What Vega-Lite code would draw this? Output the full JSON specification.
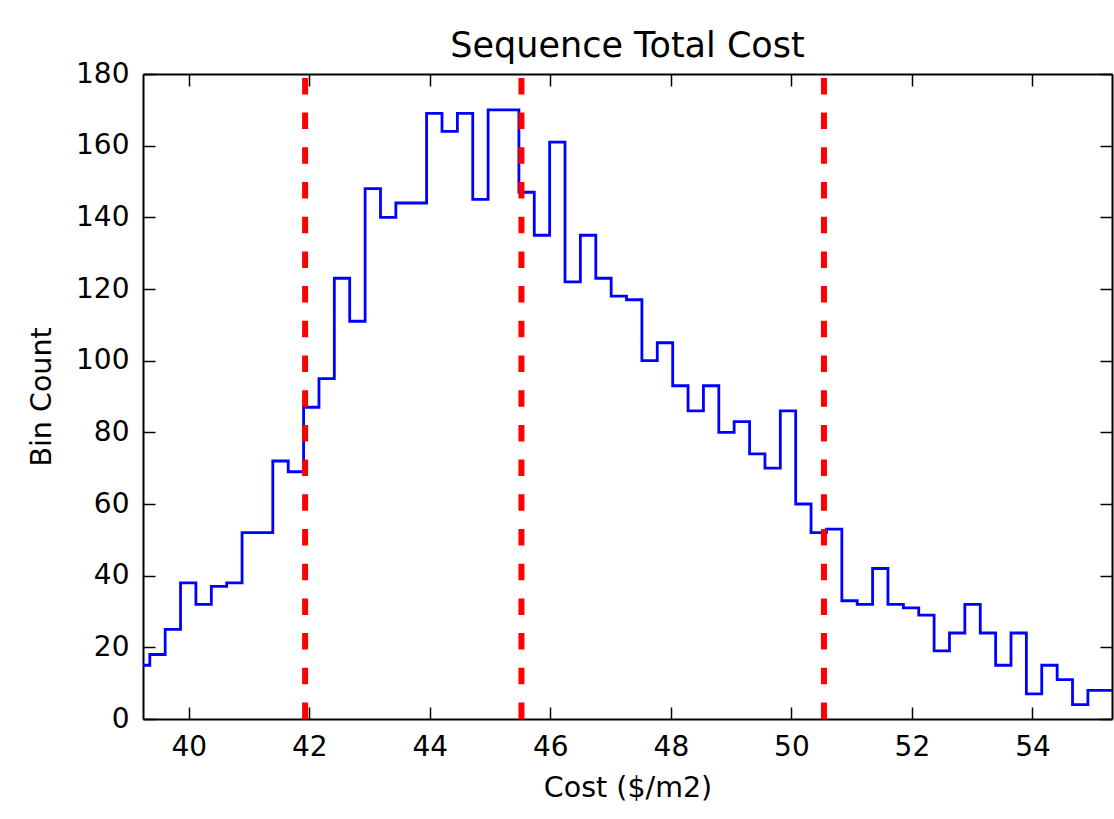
{
  "$schema": "https://vega.github.io/schema/vega-lite/v6.json",
  "autosize": "none",
  "width": 969,
  "height": 645,
  "padding": {"left": 143, "top": 74, "right": 2, "bottom": 100},
  "background": "white",
  "config": {
    "font": "DejaVu Sans",
    "view": {"stroke": null},
    "axis": {
      "labelFont": "DejaVu Sans",
      "labelFontSize": 28,
      "labelColor": "black",
      "titleFont": "DejaVu Sans",
      "titleFontSize": 28.5,
      "titleFontWeight": "normal",
      "titleColor": "black",
      "domainColor": "black",
      "domainWidth": 2,
      "tickColor": "black",
      "tickWidth": 1.5,
      "tickSize": -12,
      "grid": false
    }
  },
  "title": {
    "text": "Sequence Total Cost",
    "font": "DejaVu Sans",
    "fontSize": 35,
    "fontWeight": "normal",
    "color": "black",
    "anchor": "middle",
    "frame": "group",
    "baseline": "alphabetic",
    "offset": -32
  },
  "datasets": {
    "hist": [
      {"x": 39.098, "count": 15},
      {"x": 39.353, "count": 18},
      {"x": 39.608, "count": 25},
      {"x": 39.863, "count": 38},
      {"x": 40.118, "count": 32},
      {"x": 40.374, "count": 37},
      {"x": 40.629, "count": 38},
      {"x": 40.884, "count": 52},
      {"x": 41.139, "count": 52},
      {"x": 41.394, "count": 72},
      {"x": 41.650, "count": 69},
      {"x": 41.905, "count": 87},
      {"x": 42.160, "count": 95},
      {"x": 42.415, "count": 123},
      {"x": 42.670, "count": 111},
      {"x": 42.926, "count": 148},
      {"x": 43.181, "count": 140},
      {"x": 43.436, "count": 144},
      {"x": 43.691, "count": 144},
      {"x": 43.946, "count": 169},
      {"x": 44.202, "count": 164},
      {"x": 44.457, "count": 169},
      {"x": 44.712, "count": 145},
      {"x": 44.967, "count": 170},
      {"x": 45.222, "count": 170},
      {"x": 45.478, "count": 147},
      {"x": 45.733, "count": 135},
      {"x": 45.988, "count": 161},
      {"x": 46.243, "count": 122},
      {"x": 46.498, "count": 135},
      {"x": 46.754, "count": 123},
      {"x": 47.009, "count": 118},
      {"x": 47.264, "count": 117},
      {"x": 47.519, "count": 100},
      {"x": 47.774, "count": 105},
      {"x": 48.030, "count": 93},
      {"x": 48.285, "count": 86},
      {"x": 48.540, "count": 93},
      {"x": 48.795, "count": 80},
      {"x": 49.050, "count": 83},
      {"x": 49.306, "count": 74},
      {"x": 49.561, "count": 70},
      {"x": 49.816, "count": 86},
      {"x": 50.071, "count": 60},
      {"x": 50.326, "count": 52},
      {"x": 50.582, "count": 53},
      {"x": 50.837, "count": 33},
      {"x": 51.092, "count": 32},
      {"x": 51.347, "count": 42},
      {"x": 51.602, "count": 32},
      {"x": 51.858, "count": 31},
      {"x": 52.113, "count": 29},
      {"x": 52.368, "count": 19},
      {"x": 52.623, "count": 24},
      {"x": 52.878, "count": 32},
      {"x": 53.134, "count": 24},
      {"x": 53.389, "count": 15},
      {"x": 53.644, "count": 24},
      {"x": 53.899, "count": 7},
      {"x": 54.154, "count": 15},
      {"x": 54.410, "count": 11},
      {"x": 54.665, "count": 4},
      {"x": 54.920, "count": 8},
      {"x": 55.175, "count": 8},
      {"x": 55.430, "count": 8}
    ],
    "marks": [
      {"pos": 41.93},
      {"pos": 45.52},
      {"pos": 50.54}
    ]
  },
  "layer": [
    {
      "data": {"name": "hist"},
      "mark": {"type": "line", "interpolate": "step-after", "color": "#0000ff", "strokeWidth": 2.8, "clip": true},
      "encoding": {
        "x": {
          "field": "x",
          "type": "quantitative",
          "scale": {"domain": [39.24, 55.32], "nice": false, "zero": false},
          "axis": {"orient": "bottom", "values": [40, 42, 44, 46, 48, 50, 52, 54], "format": "d", "labelPadding": 26, "title": "Cost ($/m2)", "titlePadding": 12}
        },
        "y": {
          "field": "count",
          "type": "quantitative",
          "scale": {"domain": [0, 180], "nice": false},
          "axis": {"orient": "left", "values": [0, 20, 40, 60, 80, 100, 120, 140, 160, 180], "format": "d", "labelPadding": 26, "title": "Bin Count", "titlePadding": 19}
        }
      }
    },
    {
      "data": {"name": "marks"},
      "mark": {"type": "rule", "color": "#ff0000", "strokeWidth": 6, "strokeDash": [16.5, 18.2]},
      "encoding": {
        "x": {
          "field": "pos",
          "type": "quantitative",
          "axis": {"orient": "top", "values": [40, 42, 44, 46, 48, 50, 52, 54], "labels": false, "title": null, "minExtent": 0, "maxExtent": 0}
        },
        "y": {
          "datum": 0,
          "type": "quantitative",
          "axis": {"orient": "right", "values": [0, 20, 40, 60, 80, 100, 120, 140, 160, 180], "labels": false, "title": null, "minExtent": 0, "maxExtent": 0}
        },
        "y2": {"datum": 180}
      }
    }
  ],
  "resolve": {"axis": {"x": "independent", "y": "independent"}}
}
